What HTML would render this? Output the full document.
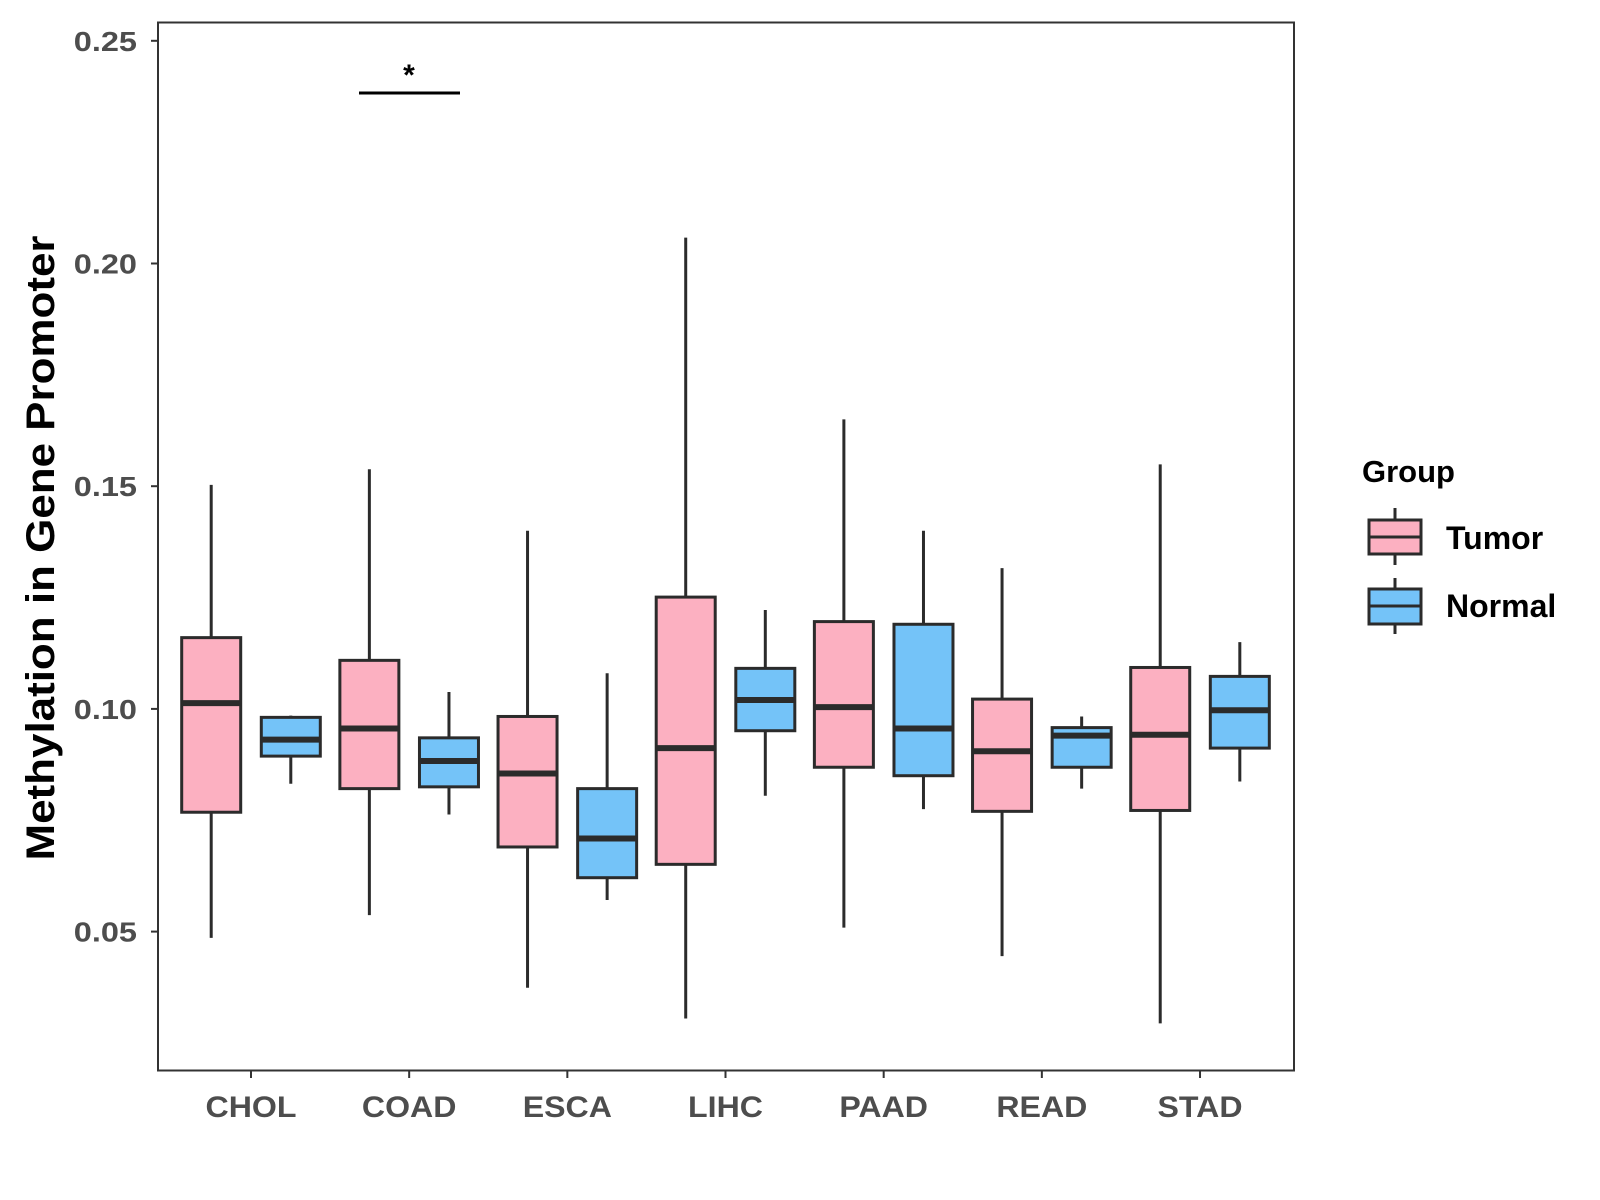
<!DOCTYPE html>
<html><head><meta charset="utf-8"><style>
html,body{margin:0;padding:0;background:#fff}
svg{display:block}
text{font-family:"Liberation Sans",Arial,sans-serif;font-weight:bold}
</style></head><body>
<svg id="chart" width="1600" height="1200" viewBox="0 0 1600 1200">
<rect x="0" y="0" width="1600" height="1200" fill="#fff"/>
<g id="plot"></g>
<rect x="158" y="22.5" width="1136" height="1048" fill="none" stroke="#333" stroke-width="2"/>
<text transform="translate(54,548) rotate(-90)" text-anchor="middle" font-size="40" fill="#000" textLength="625" lengthAdjust="spacingAndGlyphs">Methylation in Gene Promoter</text>
<g>
<line x1="359" y1="93" x2="460" y2="93" stroke="#000" stroke-width="3"/>
<text x="409" y="85" text-anchor="middle" font-size="30" fill="#000">*</text>
</g>
<g>
<text x="1362" y="482" font-size="31" fill="#000">Group</text>
<g>
<line x1="1395" y1="508" x2="1395" y2="565" stroke="#2b2b2b" stroke-width="3"/>
<rect x="1369" y="520" width="52" height="34" fill="#fcb0c1" stroke="#2b2b2b" stroke-width="3"/>
<line x1="1369" y1="537" x2="1421" y2="537" stroke="#2b2b2b" stroke-width="3"/>
<text x="1446" y="549" font-size="32" fill="#000">Tumor</text>
</g>
<g>
<line x1="1395" y1="578" x2="1395" y2="634" stroke="#2b2b2b" stroke-width="3"/>
<rect x="1369" y="589" width="52" height="35" fill="#74c3f8" stroke="#2b2b2b" stroke-width="3"/>
<line x1="1369" y1="606" x2="1421" y2="606" stroke="#2b2b2b" stroke-width="3"/>
<text x="1446" y="617" font-size="32" fill="#000">Normal</text>
</g>
</g>
</svg>
<script>
const categories = ["CHOL","COAD","ESCA","LIHC","PAAD","READ","STAD"];
const yTicks = [0.05,0.10,0.15,0.20,0.25];
const yTickLabels = ["0.05","0.10","0.15","0.20","0.25"];
// [min, q1, median, q3, max]
const tumorStats = [
 [0.0486,0.0768,0.1013,0.1160,0.1503],
 [0.0537,0.0821,0.0956,0.1109,0.1538],
 [0.0374,0.0690,0.0855,0.0983,0.1400],
 [0.0305,0.0651,0.0912,0.1251,0.2058],
 [0.0509,0.0869,0.1004,0.1196,0.1650],
 [0.0445,0.0770,0.0905,0.1022,0.1316],
 [0.0294,0.0772,0.0942,0.1093,0.1549]
];
const normalStats = [
 [0.0832,0.0894,0.0931,0.0981,0.0985],
 [0.0763,0.0825,0.0883,0.0935,0.1038],
 [0.0571,0.0621,0.0709,0.0821,0.1080],
 [0.0805,0.0951,0.1020,0.1091,0.1222],
 [0.0775,0.0850,0.0956,0.1190,0.1400],
 [0.0821,0.0869,0.0940,0.0958,0.0983],
 [0.0837,0.0912,0.0997,0.1073,0.1150]
];
const NS="http://www.w3.org/2000/svg";
const g=document.getElementById('plot');
function y(v){return 40.8+(0.25-v)/0.05*222.7;}
function x(i){return 251+i*158.17;}
function mk(t,a){const e=document.createElementNS(NS,t);for(const k in a)e.setAttribute(k,a[k]);g.appendChild(e);return e;}
function stretch(el,f){const w=el.getComputedTextLength();el.setAttribute('textLength',(w*f).toFixed(1));el.setAttribute('lengthAdjust','spacingAndGlyphs');}
yTicks.forEach((v,i)=>{
 const t=mk('line',{x1:151,x2:158,y1:y(v),y2:y(v),stroke:'#333','stroke-width':2});
 
 
 const l=mk('text',{x:137,y:y(v)+10,'text-anchor':'end','font-size':28,fill:'#4d4d4d'});
 l.textContent=yTickLabels[i];
 
 
 stretch(l,1.16);
});
categories.forEach((c,i)=>{
 const t=mk('line',{x1:x(i),x2:x(i),y1:1071,y2:1078,stroke:'#333','stroke-width':2});
 
 
 const l=mk('text',{x:x(i),y:1117,'text-anchor':'middle','font-size':30,fill:'#4d4d4d'});
 l.textContent=c;
 
 
 stretch(l,1.07);
});
function box(cx,s,fill,name){
 const w=59;
 const wl=mk('line',{x1:cx,x2:cx,y1:y(s[4]),y2:y(s[0]),stroke:'#2b2b2b','stroke-width':3});
 
 
 const r=mk('rect',{x:cx-w/2,y:y(s[3]),width:w,height:y(s[1])-y(s[3]),fill:fill,stroke:'#2b2b2b','stroke-width':3});
 
 
 const m=mk('line',{x1:cx-w/2,x2:cx+w/2,y1:y(s[2]),y2:y(s[2]),stroke:'#2b2b2b','stroke-width':6});
 
 
}
categories.forEach((c,i)=>{
 box(x(i)-39.8,tumorStats[i],'#fcb0c1',c.toLowerCase()+'-tumor');
 box(x(i)+39.8,normalStats[i],'#74c3f8',c.toLowerCase()+'-normal');
});
</script>
</body></html>
